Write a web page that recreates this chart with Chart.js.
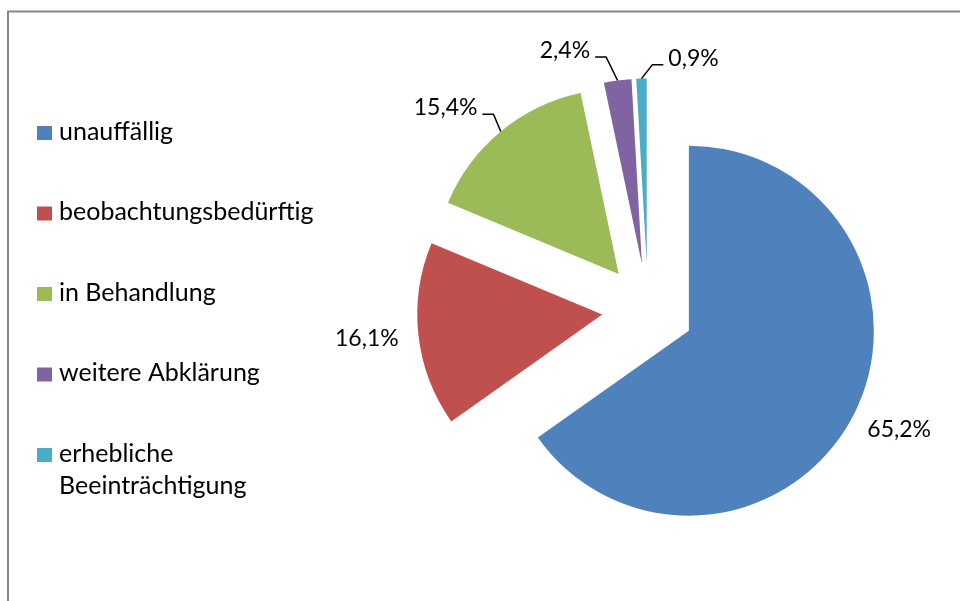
<!DOCTYPE html>
<html>
<head>
<meta charset="utf-8">
<script src="https://cdn.jsdelivr.net/npm/chart.js@4.4.0/dist/chart.umd.min.js"></script>
<style>
html, body { margin: 0; padding: 0; background: #fff; overflow: hidden; }
#wrap { position: relative; width: 960px; height: 601px; }
</style>
</head>
<body>
<div id="wrap"><canvas id="pie" width="960" height="601"></canvas></div>
<script>
const categories = ['unauffällig', 'beobachtungsbedürftig', 'in Behandlung', 'weitere Abklärung', 'erhebliche Beeinträchtigung'];
const shares = [65.2, 16.1, 15.4, 2.4, 0.9];

var colours = ['#4F81BD', '#C0504D', '#9BBB59', '#8064A2', '#4BACC6'];
var FONT = 'Lato, "Open Sans", sans-serif';
var explode = 46;
// small slices get a leader line: offset of the elbow from the slice edge
var leaders = { 2: [-7.3, -17.2], 3: [-11.5, -23.6], 4: [10.9, -13.8] };

var framePlugin = {
	id: 'frame',
	beforeDraw: function(chart) {
		var ctx = chart.ctx;
		ctx.save();
		ctx.strokeStyle = '#878787';
		ctx.lineWidth = 2;
		ctx.beginPath();
		ctx.moveTo(8, 601);
		ctx.lineTo(8, 11.5);
		ctx.lineTo(960, 11.5);
		ctx.stroke();
		ctx.restore();
	}
};

// pull every slice out from the middle (exploded pie)
var explodePlugin = {
	id: 'explode',
	afterDatasetUpdate: function(chart, args) {
		args.meta.data.forEach(function(arc) {
			var mid = (arc.startAngle + arc.endAngle) / 2;
			arc.x += Math.cos(mid) * explode;
			arc.y += Math.sin(mid) * explode;
		});
	}
};

var labelPlugin = {
	id: 'pctLabels',
	afterDatasetsDraw: function(chart) {
		var ctx = chart.ctx;
		var arcs = chart.getDatasetMeta(0).data;
		ctx.save();
		ctx.font = '23px ' + FONT;
		ctx.fillStyle = '#000';
		ctx.strokeStyle = '#000';
		ctx.lineWidth = 1.5;
		ctx.textBaseline = 'alphabetic';
		arcs.forEach(function(arc, i) {
			var text = shares[i].toFixed(1).replace('.', ',') + '%';
			var mid = (arc.startAngle + arc.endAngle) / 2;
			var cos = Math.cos(mid), sin = Math.sin(mid);
			var r = arc.outerRadius;
			var w = ctx.measureText(text).width;
			var lead = leaders[i];
			if (lead) {
				var mx = arc.x + cos * r, my = arc.y + sin * r;
				var ex = mx + lead[0], ey = my + lead[1];
				var dir = lead[0] < 0 ? -1 : 1;
				var hx = ex + dir * 11;
				ctx.beginPath();
				ctx.moveTo(mx, my);
				ctx.lineTo(ex, ey);
				ctx.lineTo(hx, ey);
				ctx.stroke();
				ctx.textAlign = dir < 0 ? 'right' : 'left';
				ctx.fillText(text, hx + dir * 5, ey + 1);
			} else {
				var px = arc.x + cos * (r + 20), py = arc.y + sin * (r + 20);
				ctx.textAlign = 'center';
				ctx.fillText(text, px + cos * w / 2, py + sin * 10 + 8);
			}
		});
		ctx.restore();
	}
};

function wrapText(ctx, text, maxW) {
	var words = text.split(' '), lines = [], cur = '';
	words.forEach(function(wd) {
		var test = cur ? cur + ' ' + wd : wd;
		if (cur && ctx.measureText(test).width > maxW) {
			lines.push(cur);
			cur = wd;
		} else {
			cur = test;
		}
	});
	lines.push(cur);
	return lines;
}

var legendPlugin = {
	id: 'sideLegend',
	afterDraw: function(chart) {
		var ctx = chart.ctx;
		ctx.save();
		ctx.font = '25px ' + FONT;
		ctx.textAlign = 'left';
		ctx.textBaseline = 'alphabetic';
		categories.forEach(function(name, i) {
			var cy = 133 + i * 80.5;
			ctx.fillStyle = colours[i];
			ctx.fillRect(37, cy - 7, 15, 14);
			ctx.fillStyle = '#000';
			wrapText(ctx, name, 275).forEach(function(line, j) {
				ctx.fillText(line, 59, cy + 6.5 + j * 32);
			});
		});
		ctx.restore();
	}
};

var pie = new Chart(document.getElementById('pie'), {
	type: 'pie',
	data: {
		labels: categories,
		datasets: [{
			data: shares,
			backgroundColor: colours,
			borderWidth: 0,
			radius: 185
		}]
	},
	options: {
		responsive: false,
		animation: false,
		devicePixelRatio: 1,
		layout: { padding: { left: 336, top: 18, right: 0, bottom: 0 } },
		plugins: {
			legend: { display: false },
			tooltip: { enabled: false }
		}
	},
	plugins: [framePlugin, explodePlugin, labelPlugin, legendPlugin]
});
</script>
</body>
</html>
